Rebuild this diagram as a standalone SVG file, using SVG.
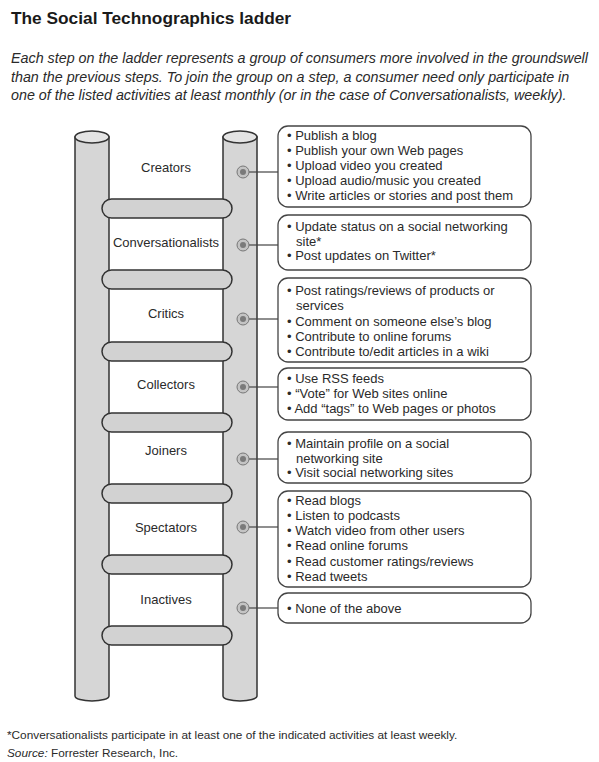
<svg xmlns="http://www.w3.org/2000/svg" width="599" height="762" viewBox="0 0 599 762">
<style>
.t{font-family:"Liberation Sans",Arial,sans-serif;fill:#222}
.title{font-size:17.3px;font-weight:bold;fill:#1a1a1a}
.intro{font-size:14.3px;font-style:italic;fill:#2a2a2a}
.lbl{font-size:13px;text-anchor:middle;fill:#2a2a2a}
.bx{font-size:13px;fill:#2a2a2a}
.foot{font-size:11.8px;fill:#2a2a2a}
.rail{fill:#d6d6d6;stroke:#333;stroke-width:1.5}
.cap{fill:#e4e4e4;stroke:#333;stroke-width:1.5}
.rung{fill:#d2d2d2;stroke:#333;stroke-width:1.5}
.box{fill:#fff;stroke:#444;stroke-width:1.3}
.bolt{fill:#c4c4c4;stroke:#777;stroke-width:1}
.boltc{fill:#7a7a7a}
.conn line{stroke:#444;stroke-width:1.2}
</style>
<rect width="599" height="762" fill="#fff"/>
<text class="t title" x="11" y="24">The Social Technographics ladder</text>
<text class="t intro" x="11" y="63">Each step on the ladder represents a group of consumers more involved in the groundswell</text>
<text class="t intro" x="11" y="81.5">than the previous steps. To join the group on a step, a consumer need only participate in</text>
<text class="t intro" x="11" y="100">one of the listed activities at least monthly (or in the case of Conversationalists, weekly).</text>

<g id="ladder">
  <path class="rail" d="M75,137 V696 A17,5 0 0 0 109,696 V137 Z"/>
  <ellipse class="cap" cx="92" cy="137" rx="17" ry="6"/>
  <path class="rail" d="M223,137 V696 A17,5 0 0 0 257,696 V137 Z"/>
  <ellipse class="cap" cx="240" cy="137" rx="17" ry="6"/>
  <rect class="rung" x="102" y="199" width="130" height="19" rx="9.5"/>
  <rect class="rung" x="102" y="270" width="130" height="19" rx="9.5"/>
  <rect class="rung" x="102" y="342" width="130" height="19" rx="9.5"/>
  <rect class="rung" x="102" y="413" width="130" height="19" rx="9.5"/>
  <rect class="rung" x="102" y="484" width="130" height="19" rx="9.5"/>
  <rect class="rung" x="102" y="555" width="130" height="19" rx="9.5"/>
  <rect class="rung" x="102" y="626" width="130" height="19" rx="9.5"/>
</g>

<g class="conn" id="connectors">
  <line x1="249" y1="172" x2="278" y2="172"/>
  <line x1="249" y1="245" x2="278" y2="245"/>
  <line x1="249" y1="319" x2="278" y2="319"/>
  <line x1="249" y1="387" x2="278" y2="387"/>
  <line x1="249" y1="459" x2="278" y2="459"/>
  <line x1="249" y1="527" x2="278" y2="527"/>
  <line x1="249" y1="608" x2="278" y2="608"/>
</g>

<g id="step-creators">
  <text class="t lbl" x="166" y="171.5">Creators</text>
  <circle class="bolt" cx="243" cy="172" r="6"/><circle class="boltc" cx="243" cy="172" r="3"/>
</g>
<g id="step-conversationalists">
  <text class="t lbl" x="166" y="246.5">Conversationalists</text>
  <circle class="bolt" cx="243" cy="245" r="6"/><circle class="boltc" cx="243" cy="245" r="3"/>
</g>
<g id="step-critics">
  <text class="t lbl" x="166" y="317.5">Critics</text>
  <circle class="bolt" cx="243" cy="319" r="6"/><circle class="boltc" cx="243" cy="319" r="3"/>
</g>
<g id="step-collectors">
  <text class="t lbl" x="166" y="388.5">Collectors</text>
  <circle class="bolt" cx="243" cy="387" r="6"/><circle class="boltc" cx="243" cy="387" r="3"/>
</g>
<g id="step-joiners">
  <text class="t lbl" x="166" y="454.5">Joiners</text>
  <circle class="bolt" cx="243" cy="459" r="6"/><circle class="boltc" cx="243" cy="459" r="3"/>
</g>
<g id="step-spectators">
  <text class="t lbl" x="166" y="531.5">Spectators</text>
  <circle class="bolt" cx="243" cy="527" r="6"/><circle class="boltc" cx="243" cy="527" r="3"/>
</g>
<g id="step-inactives">
  <text class="t lbl" x="166" y="603.5">Inactives</text>
  <circle class="bolt" cx="243" cy="608" r="6"/><circle class="boltc" cx="243" cy="608" r="3"/>
</g>

<g id="box-creators">
  <rect class="box" x="278" y="126" width="253" height="81" rx="10"/>
  <text class="t bx" x="287" y="140">• Publish a blog</text>
  <text class="t bx" x="287" y="155">• Publish your own Web pages</text>
  <text class="t bx" x="287" y="170">• Upload video you created</text>
  <text class="t bx" x="287" y="185">• Upload audio/music you created</text>
  <text class="t bx" x="287" y="200">• Write articles or stories and post them</text>
</g>
<g id="box-conversationalists">
  <rect class="box" x="278" y="215" width="253" height="55" rx="10"/>
  <text class="t bx" x="287" y="231">• Update status on a social networking</text>
  <text class="t bx" x="296" y="245.5">site*</text>
  <text class="t bx" x="287" y="260">• Post updates on Twitter*</text>
</g>
<g id="box-critics">
  <rect class="box" x="278" y="278" width="253" height="84" rx="10"/>
  <text class="t bx" x="287" y="295">• Post ratings/reviews of products or</text>
  <text class="t bx" x="296" y="310">services</text>
  <text class="t bx" x="287" y="325.5">• Comment on someone else’s blog</text>
  <text class="t bx" x="287" y="340.5">• Contribute to online forums</text>
  <text class="t bx" x="287" y="356">• Contribute to/edit articles in a wiki</text>
</g>
<g id="box-collectors">
  <rect class="box" x="278" y="368" width="253" height="52" rx="10"/>
  <text class="t bx" x="287" y="383">• Use RSS feeds</text>
  <text class="t bx" x="287" y="398">• “Vote” for Web sites online</text>
  <text class="t bx" x="287" y="413">• Add “tags” to Web pages or photos</text>
</g>
<g id="box-joiners">
  <rect class="box" x="278" y="432" width="253" height="51" rx="10"/>
  <text class="t bx" x="287" y="448">• Maintain profile on a social</text>
  <text class="t bx" x="296" y="462.5">networking site</text>
  <text class="t bx" x="287" y="477">• Visit social networking sites</text>
</g>
<g id="box-spectators">
  <rect class="box" x="278" y="491" width="253" height="96" rx="10"/>
  <text class="t bx" x="287" y="504.5">• Read blogs</text>
  <text class="t bx" x="287" y="519.8">• Listen to podcasts</text>
  <text class="t bx" x="287" y="535.1">• Watch video from other users</text>
  <text class="t bx" x="287" y="550.4">• Read online forums</text>
  <text class="t bx" x="287" y="565.7">• Read customer ratings/reviews</text>
  <text class="t bx" x="287" y="581">• Read tweets</text>
</g>
<g id="box-inactives">
  <rect class="box" x="278" y="593" width="253" height="30" rx="10"/>
  <text class="t bx" x="287" y="612.5">• None of the above</text>
</g>

<text class="t foot" x="7" y="739">*Conversationalists participate in at least one of the indicated activities at least weekly.</text>
<text class="t foot" x="7" y="757"><tspan font-style="italic">Source:</tspan> Forrester Research, Inc.</text>
</svg>
